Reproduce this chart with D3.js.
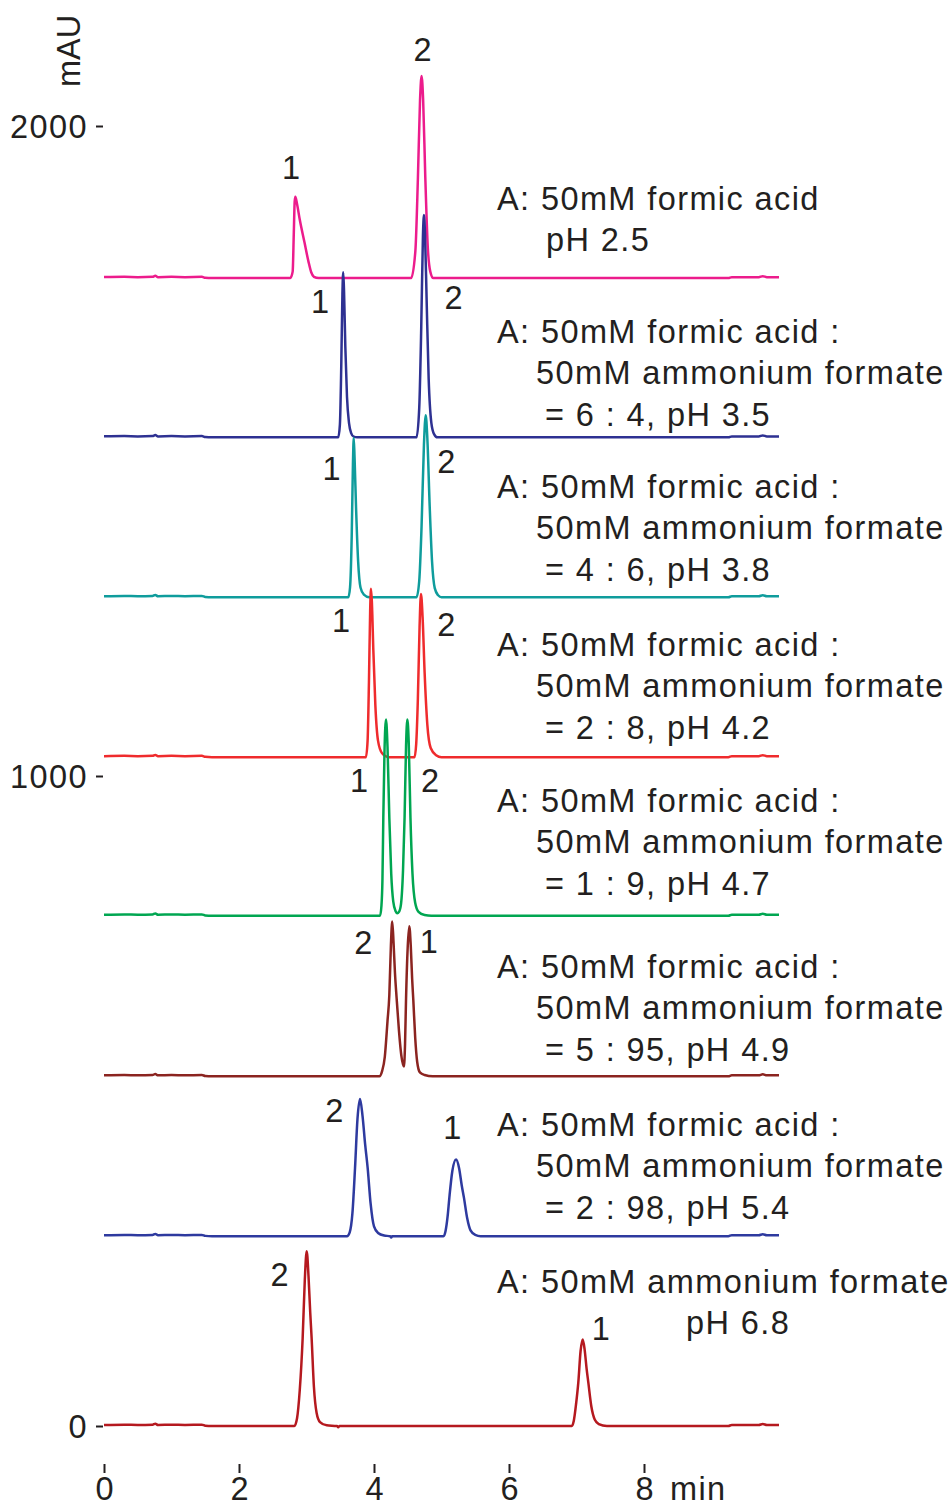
<!DOCTYPE html>
<html>
<head>
<meta charset="utf-8">
<script src="https://cdn.jsdelivr.net/npm/d3@7/dist/d3.min.js"></script>
<style>
  html, body { margin: 0; padding: 0; background: #fff; }
  svg { display: block; }
  text { font-family: "Liberation Sans", Arial, Helvetica, sans-serif; fill: #231f20; }
</style>
</head>
<body>
<svg id="chart" width="951" height="1508"></svg>
<script>
// ---------------- DATA ----------------
const xTickValues = [0, 2, 4, 6, 8];
const yTickValues = [0, 1000, 2000];
const xUnit = "min";
const yUnit = "mAU";

// vertical offset (mAU) of each chromatogram's baseline
const traceOffsets = [1766, 1521, 1275, 1029, 785, 538, 292, 0];

// baseline wiggle common to all runs (time min, mAU)
const baselineStart = [[0, 1.5], [0.3, 2], [0.5, 1.5], [0.72, 2], [0.76, 3.5], [0.8, 1.5], [1.0, 2], [1.2, 1.5], [1.45, 2], [1.5, 0.5], [1.6, 0]];
const baselineEnd = [[9.25, 0], [9.3, 1.5], [9.7, 1.5], [9.76, 3], [9.82, 1.5], [10, 1.5]];

// peaks (time min, mAU above the run's baseline)
const tracePH25 = [[2.76, 0], [2.795, 10], [2.812, 70], [2.825, 118], [2.835, 125], [2.86, 114], [2.90, 90], [2.97, 55], [3.03, 25], [3.07, 9], [3.11, 2], [3.18, 0],
  [4.55, 0], [4.613, 42], [4.65, 152], [4.682, 274], [4.705, 311], [4.728, 274], [4.76, 155], [4.797, 47], [4.834, 10], [4.88, 0]];
const tracePH35 = [[3.47, 0], [3.495, 20], [3.515, 110], [3.532, 220], [3.544, 254], [3.556, 225], [3.575, 140], [3.60, 62], [3.63, 22], [3.66, 7], [3.70, 1], [3.75, 0],
  [4.63, 0], [4.67, 45], [4.70, 170], [4.725, 310], [4.74, 342], [4.755, 315], [4.78, 210], [4.81, 90], [4.85, 22], [4.89, 5], [4.94, 0]];
const tracePH38 = [[3.62, 0], [3.645, 15], [3.67, 95], [3.688, 205], [3.70, 245], [3.712, 215], [3.735, 135], [3.765, 55], [3.80, 15], [3.85, 4], [3.93, 0],
  [4.63, 0], [4.67, 25], [4.705, 110], [4.74, 235], [4.766, 280], [4.79, 245], [4.825, 140], [4.86, 55], [4.90, 14], [4.95, 3], [5.0, 0]];
const tracePH42 = [[3.88, 0], [3.905, 25], [3.925, 115], [3.943, 225], [3.955, 259], [3.968, 240], [3.99, 165], [4.02, 80], [4.06, 25], [4.12, 6], [4.22, 0],
  [4.60, 0], [4.625, 20], [4.65, 90], [4.675, 200], [4.696, 251], [4.72, 215], [4.75, 130], [4.79, 50], [4.84, 14], [4.92, 3], [5.0, 0]];
const tracePH47 = [[4.09, 0], [4.11, 15], [4.125, 55], [4.138, 151], [4.155, 250], [4.178, 302], [4.20, 260], [4.227, 151], [4.255, 65], [4.285, 22], [4.32, 7], [4.345, 4],
  [4.37, 6], [4.40, 18], [4.43, 70], [4.453, 151], [4.475, 262], [4.494, 302], [4.515, 265], [4.54, 151], [4.57, 65], [4.61, 20], [4.66, 6], [4.75, 1], [4.85, 0]];
const tracePH49 = [[4.08, 0], [4.12, 8], [4.16, 30], [4.20, 85], [4.227, 125], [4.25, 200], [4.27, 238], [4.29, 205], [4.31, 160], [4.336, 119], [4.37, 70], [4.405, 32], [4.444, 15],
  [4.46, 50], [4.474, 116], [4.50, 200], [4.523, 231], [4.545, 200], [4.565, 150], [4.583, 116], [4.61, 60], [4.64, 22], [4.68, 6], [4.75, 2], [4.87, 0]];
const tracePH54 = [[3.60, 0], [3.64, 6], [3.68, 35], [3.719, 105], [3.755, 180], [3.793, 211], [3.83, 185], [3.87, 140], [3.906, 105], [3.95, 50], [4.00, 15], [4.06, 5], [4.15, 1], [4.24, 0], [4.255, -2], [4.27, 0],
  [5.03, 0], [5.06, 8], [5.09, 30], [5.116, 59], [5.16, 100], [5.215, 118], [5.26, 105], [5.30, 78], [5.333, 59], [5.38, 28], [5.43, 9], [5.50, 2], [5.58, 0]];
const tracePH68 = [[2.82, 0], [2.86, 12], [2.90, 55], [2.943, 135], [2.975, 225], [3.003, 269], [3.03, 230], [3.055, 175], [3.076, 135], [3.11, 60], [3.15, 20], [3.20, 6], [3.30, 1], [3.45, 0], [3.47, -2], [3.49, 0],
  [6.93, 0], [6.96, 8], [6.995, 35], [7.027, 67], [7.06, 115], [7.092, 133], [7.12, 118], [7.15, 88], [7.175, 67], [7.22, 30], [7.27, 10], [7.33, 3], [7.45, 0]];
const traces = [tracePH25, tracePH35, tracePH38, tracePH42, tracePH47, tracePH49, tracePH54, tracePH68];

const traceColors = ["#ec1c8c", "#2e3192", "#0f9c9c", "#ef2b2d", "#00a651", "#8b2420", "#2e3a9f", "#b5191f"];

// peak number labels (text, time, mAU)
const peakLabelText = [["1", "2"], ["1", "2"], ["1", "2"], ["1", "2"], ["1", "2"], ["2", "1"], ["2", "1"], ["2", "1"]];
const peakLabelTime = [[2.77, 4.72], [3.20, 5.18], [3.37, 5.07], [3.51, 5.07], [3.78, 4.83], [3.84, 4.81], [3.41, 5.16], [2.60, 7.36]];
const peakLabelValue = [[1918, 2100], [1713, 1718], [1455, 1466], [1221, 1215], [975, 975], [726, 728], [467, 441], [215, 132]];

// mobile phase conditions
const conditionLines = [
  ["A: 50mM formic acid", "pH 2.5"],
  ["A: 50mM formic acid :", "50mM ammonium formate", "= 6 : 4, pH 3.5"],
  ["A: 50mM formic acid :", "50mM ammonium formate", "= 4 : 6, pH 3.8"],
  ["A: 50mM formic acid :", "50mM ammonium formate", "= 2 : 8, pH 4.2"],
  ["A: 50mM formic acid :", "50mM ammonium formate", "= 1 : 9, pH 4.7"],
  ["A: 50mM formic acid :", "50mM ammonium formate", "= 5 : 95, pH 4.9"],
  ["A: 50mM formic acid :", "50mM ammonium formate", "= 2 : 98, pH 5.4"],
  ["A: 50mM ammonium formate", "pH 6.8"]
];

// ---------------- LAYOUT ----------------
const FONT = 32.5, LS = 1.4;
const svg = d3.select("#chart");
const x = d3.scaleLinear().domain([0, 10]).range([104, 779]);
const y = d3.scaleLinear().domain([0, 2000]).range([1426, 126]);

// y axis
const yAxis = svg.append("g").attr("transform", "translate(103,0)")
  .call(d3.axisLeft(y).tickValues(yTickValues).tickSize(7).tickPadding(8).tickFormat(d3.format("d")));
yAxis.select(".domain").remove();
yAxis.selectAll(".tick line").attr("stroke", "#231f20").attr("stroke-width", 2);
yAxis.selectAll(".tick text").attr("font-size", FONT).attr("letter-spacing", LS)
  .attr("fill", "#231f20").attr("dy", "0.34em");

svg.append("text").attr("transform", "translate(80,51) rotate(-90)")
  .attr("text-anchor", "middle").attr("font-size", FONT).text(yUnit);

// x axis
const xAxis = svg.append("g").attr("transform", "translate(0,1464)")
  .call(d3.axisBottom(x).tickValues(xTickValues).tickSize(9).tickPadding(4).tickFormat(d3.format("d")));
xAxis.select(".domain").remove();
xAxis.selectAll(".tick line").attr("stroke", "#231f20").attr("stroke-width", 2);
xAxis.selectAll(".tick text").attr("font-size", FONT).attr("fill", "#231f20");
svg.append("text").attr("x", 670).attr("y", 1500).attr("font-size", FONT).attr("letter-spacing", LS).text(xUnit);

// traces
const line = d3.line().x(d => x(d[0])).y(d => y(d[1])).curve(d3.curveMonotoneX);
traces.forEach((pts, i) => {
  const full = baselineStart.concat(pts, baselineEnd).map(p => [p[0], p[1] + traceOffsets[i]]);
  svg.append("path").datum(full).attr("d", line)
    .attr("fill", "none").attr("stroke", traceColors[i]).attr("stroke-width", 2.5)
    .attr("stroke-linejoin", "round").attr("stroke-linecap", "butt");
});

// peak labels
peakLabelText.forEach((labels, i) => {
  labels.forEach((t, j) => {
    svg.append("text").attr("x", x(peakLabelTime[i][j])).attr("y", y(peakLabelValue[i][j]))
      .attr("text-anchor", "middle").attr("font-size", FONT).text(t);
  });
});

// condition annotations
const blockBaselines = [[210, 251], [343, 384, 426], [498, 539, 581], [656, 697, 739], [812, 853, 895], [978, 1019, 1061], [1136, 1177, 1219], [1293, 1334]];
conditionLines.forEach((lines, i) => {
  lines.forEach((t, j) => {
    let xx = 497;
    if (j === 1) xx = lines.length === 3 ? 536 : (i === 0 ? 546 : 686);
    if (j === 2) xx = 545;
    svg.append("text").attr("x", xx).attr("y", blockBaselines[i][j])
      .attr("font-size", FONT).attr("letter-spacing", LS).text(t);
  });
});
</script>
</body>
</html>
